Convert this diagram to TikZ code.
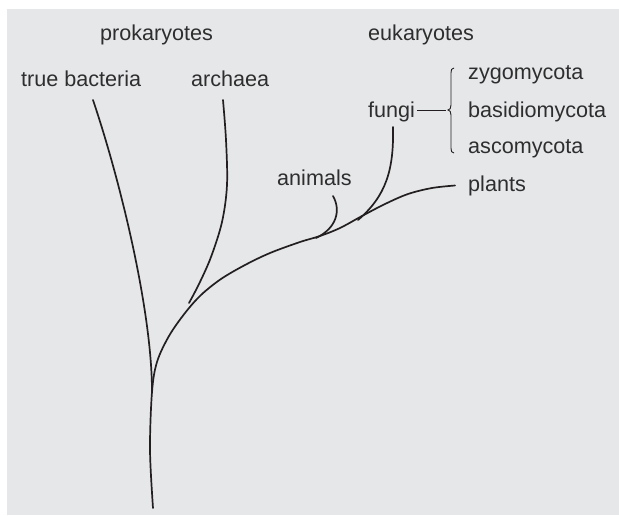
\documentclass[tikz,border=0pt]{standalone}
\usepackage{fontspec}
\setmainfont{Liberation Sans}
\definecolor{bg}{HTML}{E6E7E9}
\definecolor{ink}{HTML}{231F20}
\definecolor{txt}{HTML}{2E2E2E}
\tikzset{
  lbl/.style={anchor=base west, inner sep=0pt, text=txt, font=\fontsize{21.6}{26}\selectfont},
  branch/.style={draw=ink, line width=1.7pt, line cap=round},
  thinline/.style={draw=ink, line width=0.9pt}
}
\begin{document}
\begin{tikzpicture}[x=1pt,y=-1pt]
\useasboundingbox (0,0) rectangle (619,515);
\fill[white] (0,0) rectangle (619,515);
\fill[bg] (7,9) rectangle (619,515);

% labels
\node[lbl] (prok) at (100,40) {prokaryotes};
\node[lbl] (euk) at (368,40) {eukaryotes};
\node[lbl] (tb) at (21,86) {true bacteria};
\node[lbl] (arch) at (191,86) {archaea};
\node[lbl] (zygo) at (468,79) {zygomycota};
\node[lbl] (fungi) at (368,117) {fungi};
\node[lbl] (basid) at (468,117) {basidiomycota};
\node[lbl] (asco) at (468,153) {ascomycota};
\node[lbl] (plants) at (468,191) {plants};
\node[lbl] (animals) at (277,185) {animals};

% branch end points
\coordinate (root) at (153,508);
\coordinate (tbtop) at (93,100);
\coordinate (archtop) at (223,100);
\coordinate (animtop) at (333,196);
\coordinate (fungtop) at (393,127);
\coordinate (plantend) at (455,185.5);
\coordinate (j1) at (152,392);

% trunk and main eukaryote branch to plants
\draw[branch] plot[smooth, tension=0.55] coordinates {
  (root) (150,450) (j1) (157,362) (169,336) (185,313) (201,295) (221,279)
  (245,265) (270,253) (300,242) (320,236) (340,228) (362,216) (385,204)
  (408,194) (432,188) (plantend)};

% true bacteria
\draw[branch] (j1) .. controls (152,310) and (120,180) .. (tbtop);

% archaea
\draw[branch] plot[smooth, tension=0.55] coordinates {
  (archtop) (226,140) (227,185) (222,222) (211,257) (199,284) (189,303)};

% animals
\draw[branch] (animtop) .. controls (341,210) and (337,228) .. (316,238);

% fungi
\draw[branch] (fungtop) .. controls (394,170) and (386,196) .. (358,220);

% fungi connector and brace
\coordinate (fl1) at (417,110);
\coordinate (fl2) at (446,110);
\draw[thinline] (fl1) -- (fl2);
\draw[thinline] (454,68) .. controls (451.5,68) and (451,70) .. (451,73)
  -- (451,105) .. controls (451,108) and (450,110) .. (448,110)
  .. controls (450,110) and (451,112) .. (451,115)
  -- (451,148) .. controls (451,151) and (451.5,153) .. (454,153);
\end{tikzpicture}
\end{document}
